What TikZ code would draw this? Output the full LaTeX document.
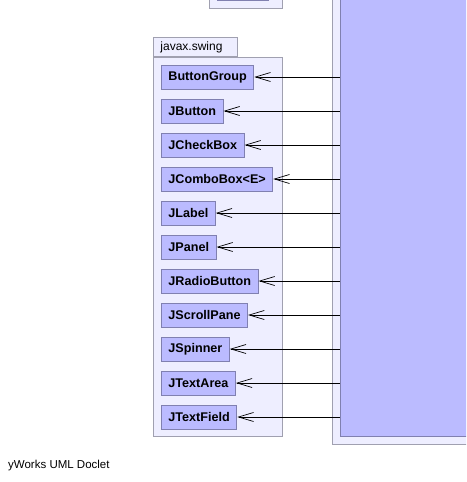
\documentclass[tikz,border=0pt]{standalone}
\usepackage{fontspec}
\setmainfont{Liberation Sans}
\usepackage{tikz}
\usetikzlibrary{arrows.meta,positioning}

\definecolor{clsfill}{RGB}{187,187,255}
\definecolor{clsdraw}{RGB}{128,128,176}
\definecolor{pkgfill}{RGB}{238,238,255}
\definecolor{pkgdraw}{RGB}{160,160,176}

\tikzset{
  cls/.style={draw=clsdraw,fill=clsfill,line width=0.9pt,minimum height=24pt,
    inner xsep=7pt,anchor=west,font=\fontsize{12.6}{14}\selectfont\bfseries},
  pkg/.style={draw=pkgdraw,fill=pkgfill,line width=0.9pt},
  dep/.style={line width=1pt,{Straight Barb[length=15pt,width=9pt,line width=0.7pt]}-}
}

\begin{document}
\begin{tikzpicture}[x=1pt,y=-1pt]
        \clip (0,0) rectangle (466,482);
        % Package at the top (cut off)
        \draw[pkg] (209,-20) rectangle (282,8);
        \draw[draw=clsdraw,fill=clsfill,line width=0.9pt] (217,-20) rectangle (268,0.5);
        % Package on the right and its class
        \draw[pkg] (332,-20) rectangle (480,444);
        \node[draw=clsdraw,fill=clsfill,line width=0.9pt,minimum width=140pt,
          minimum height=456pt,anchor=north west] (impl) at (340,-20) {};
        % Package javax.swing
        \node[pkg,anchor=south west,minimum height=19pt,text width=70pt,
          inner xsep=7pt,align=left,font=\fontsize{12}{14}\selectfont] (tab) at (153,57) {javax.swing};
        \draw[pkg] (153,57) rectangle (282,436);
        % Classes
        \node[cls] (bgroup) at (161,77) {ButtonGroup};
        \node[cls] (button) at (161,111) {JButton};
        \node[cls] (check) at (161,145) {JCheckBox};
        \node[cls] (combo) at (161,179) {JComboBox<E>};
        \node[cls] (label) at (161,213) {JLabel};
        \node[cls] (panel) at (161,247) {JPanel};
        \node[cls] (radio) at (161,281) {JRadioButton};
        \node[cls] (scroll) at (161,315) {JScrollPane};
        \node[cls] (spinner) at (161,349) {JSpinner};
        \node[cls] (tarea) at (161,383) {JTextArea};
        \node[cls] (tfield) at (161,417) {JTextField};
        % Dependencies
        \draw[dep] (bgroup.east) -- (bgroup.east -| impl.west);
        \draw[dep] (button.east) -- (button.east -| impl.west);
        \draw[dep] (check.east) -- (check.east -| impl.west);
        \draw[dep] (combo.east) -- (combo.east -| impl.west);
        \draw[dep] (label.east) -- (label.east -| impl.west);
        \draw[dep] (panel.east) -- (panel.east -| impl.west);
        \draw[dep] (radio.east) -- (radio.east -| impl.west);
        \draw[dep] (scroll.east) -- (scroll.east -| impl.west);
        \draw[dep] (spinner.east) -- (spinner.east -| impl.west);
        \draw[dep] (tarea.east) -- (tarea.east -| impl.west);
        \draw[dep] (tfield.east) -- (tfield.east -| impl.west);
        % Footer
        \node[anchor=west,inner sep=0pt,font=\fontsize{11.5}{13}\selectfont] (doclet) at (8,466) {yWorks UML Doclet};
      \end{tikzpicture}
\end{document}
